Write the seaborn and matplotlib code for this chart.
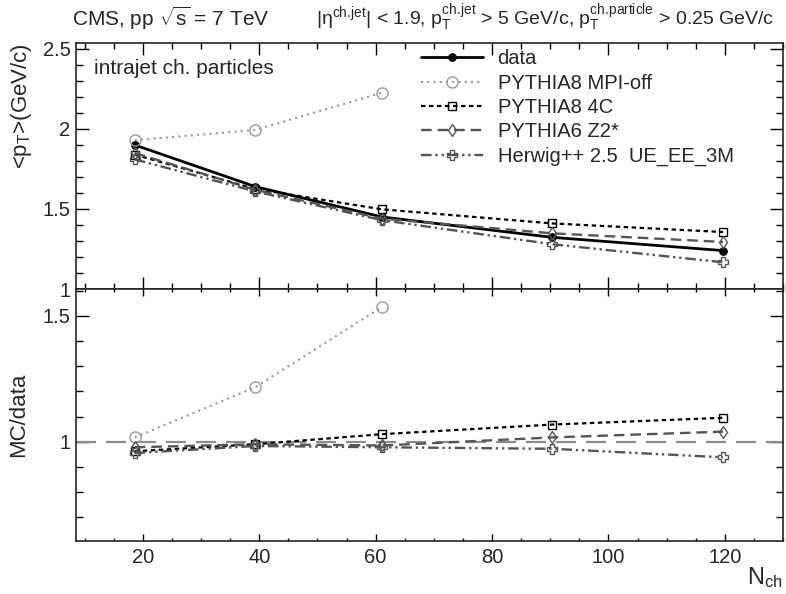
import numpy as np
import pandas as pd
import matplotlib
matplotlib.use("Agg")
import matplotlib.pyplot as plt
from matplotlib.ticker import MultipleLocator, FuncFormatter
import seaborn as sns

# ---------------- data ----------------
nch = [18.6, 39.3, 61.1, 90.3, 119.7]
nch_mpioff = [18.6, 39.3, 61.1]

data_pt = [1.90, 1.64, 1.45, 1.323, 1.24]
mpioff_pt = [1.93, 1.994, 2.227]
p8_4c_pt = [1.84, 1.625, 1.498, 1.41, 1.356]
p6_z2_pt = [1.85, 1.62, 1.44, 1.348, 1.294]
herwig_pt = [1.81, 1.61, 1.43, 1.28, 1.167]

mpioff_ratio = [1.017, 1.216, 1.535]
p8_4c_ratio = [0.962, 0.99, 1.03, 1.068, 1.095]
p6_z2_ratio = [0.978, 0.99, 0.985, 1.017, 1.04]
herwig_ratio = [0.955, 0.983, 0.978, 0.972, 0.938]

labels = ["data", "PYTHIA8 MPI-off", "PYTHIA8 4C", "PYTHIA6 Z2*",
          "Herwig++ 2.5  UE_EE_3M"]

# ---------------- style ----------------
sns.set_style("ticks")
plt.rcParams["font.family"] = ["Liberation Sans", "DejaVu Sans"]
plt.rcParams["mathtext.fontset"] = "custom"
plt.rcParams["mathtext.rm"] = "Liberation Sans"
plt.rcParams["mathtext.it"] = "Liberation Sans:italic"
plt.rcParams["mathtext.bf"] = "Liberation Sans:bold"

FS = 14.5

fig = plt.figure(figsize=(7.86, 5.94), dpi=100)
L, R = 76 / 786, 783 / 786
yt, ym, yb = 1 - 43 / 594, 1 - 289 / 594, 1 - 541 / 594
ax1 = fig.add_axes([L, ym, R - L, yt - ym])
ax2 = fig.add_axes([L, yb, R - L, ym - yb])

styles = {
    "data": dict(color="black", linestyle="-", linewidth=2.0, marker="o",
                 markersize=5.5, markerfacecolor="black", markeredgecolor="black"),
    "mpi": dict(color="#9a9a9a", linestyle=(0, (1, 2)), linewidth=1.5, marker="o",
                markersize=8, markerfacecolor="none", markeredgecolor="#9a9a9a",
                markeredgewidth=1.0),
    "4c": dict(color="black", linestyle=(0, (2, 1.6)), linewidth=1.6, marker="s",
               markersize=5.5, markerfacecolor="none", markeredgecolor="black",
               markeredgewidth=1.0),
    "z2": dict(color="#555555", linestyle=(0, (4.5, 2.5)), linewidth=1.7, marker="d",
               markersize=6, markerfacecolor="none", markeredgecolor="#555555",
               markeredgewidth=1.0),
    "hw": dict(color="#555555", linestyle=(0, (4.5, 1.6, 1, 1.6, 1, 1.6)), linewidth=1.7,
               marker="P", markersize=7.5, markerfacecolor="none",
               markeredgecolor="#555555", markeredgewidth=1.0),
}

# upper panel
sns.lineplot(x=nch, y=data_pt, ax=ax1, label=labels[0], **styles["data"])
sns.lineplot(x=nch_mpioff, y=mpioff_pt, ax=ax1, label=labels[1], **styles["mpi"])
sns.lineplot(x=nch, y=p8_4c_pt, ax=ax1, label=labels[2], **styles["4c"])
sns.lineplot(x=nch, y=p6_z2_pt, ax=ax1, label=labels[3], **styles["z2"])
sns.lineplot(x=nch, y=herwig_pt, ax=ax1, label=labels[4], **styles["hw"])

# lower panel
ax2.axhline(1.0, color="#8c8c8c", linewidth=1.6, linestyle=(0, (9, 4.5)), zorder=1)
sns.lineplot(x=nch_mpioff, y=mpioff_ratio, ax=ax2, **styles["mpi"])
sns.lineplot(x=nch, y=p8_4c_ratio, ax=ax2, **styles["4c"])
sns.lineplot(x=nch, y=p6_z2_ratio, ax=ax2, **styles["z2"])
sns.lineplot(x=nch, y=herwig_ratio, ax=ax2, **styles["hw"])

fmt = FuncFormatter(lambda v, p: ("%g" % round(v, 3)))
for ax in (ax1, ax2):
    ax.set_xlim(8.5, 130)
    ax.xaxis.set_major_locator(MultipleLocator(20))
    ax.xaxis.set_minor_locator(MultipleLocator(5))
    ax.yaxis.set_major_formatter(fmt)
    ax.xaxis.set_major_formatter(fmt)
    ax.tick_params(which="both", direction="in", top=True, right=True,
                   labelsize=FS, width=1.0, color="black")
    for s in ax.spines.values():
        s.set_linewidth(1.2)
    ax.set_xlabel("")
    ax.set_ylabel("")

ax1.set_ylim(1.0, 2.5375)
ax1.yaxis.set_major_locator(MultipleLocator(0.5))
ax1.yaxis.set_minor_locator(MultipleLocator(0.1))
ax1.tick_params(axis="x", which="major", length=8.5, labelbottom=False)
ax1.tick_params(axis="x", which="minor", length=4.3)
ax1.tick_params(axis="y", which="major", length=9.5, pad=4)
ax1.tick_params(axis="y", which="minor", length=5)

ax2.set_ylim(0.606, 1.606)
ax2.yaxis.set_major_locator(MultipleLocator(0.5))
ax2.yaxis.set_minor_locator(MultipleLocator(0.1))
ax2.tick_params(axis="x", which="major", length=5, pad=5)
ax2.tick_params(axis="x", which="minor", length=2.5)
ax2.tick_params(axis="y", which="major", length=9.5, pad=4)
ax2.tick_params(axis="y", which="minor", length=5)

leg = ax1.legend(loc="upper left", bbox_to_anchor=(0.488, 0.975), frameon=False,
                 fontsize=FS, handlelength=3.1, handletextpad=0.7,
                 labelspacing=0.27, borderpad=0, borderaxespad=0)

ax1.text((94 - 76) / 707, (289 - 69) / 246, "intrajet ch. particles",
         transform=ax1.transAxes, fontsize=15, ha="left", va="center")

fig.text(72 / 786, 1 - 18 / 594, r"CMS, pp $\sqrt{\mathrm{s}}$ = 7 TeV", fontsize=15,
         ha="left", va="center")
fig.text(774 / 786, 1 - 18 / 594,
         r"|$\mathrm{\eta}^{\mathrm{ch.\!jet}}$| < 1.9, $\mathrm{p}_{\mathrm{T}}^{\mathrm{ch.\!jet}}$"
         r" > 5 GeV/c, $\mathrm{p}_{\mathrm{T}}^{\mathrm{ch.\!particle}}$ > 0.25 GeV/c",
         fontsize=14, ha="right", va="center")

fig.text(22 / 786, 1 - 43 / 594, r"<$\mathrm{p}_{\mathrm{T}}$>(GeV/c)", fontsize=16,
         rotation=90, ha="center", va="top")
fig.text(19 / 786, 1 - 415 / 594, "MC/data", fontsize=16, rotation=90,
         ha="center", va="center")
fig.text(783 / 786, 1 - 578 / 594, r"$\mathrm{N}_{\mathrm{ch}}$", fontsize=17,
         ha="right", va="center")

fig.savefig("out.png", dpi=100)
